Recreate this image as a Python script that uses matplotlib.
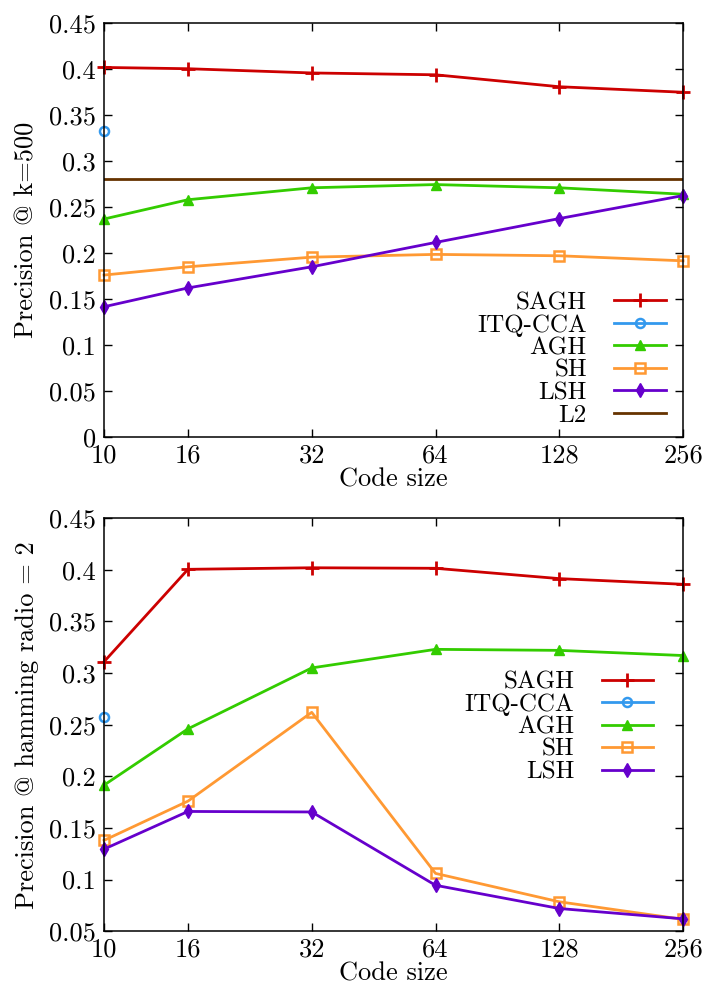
import numpy as np
import matplotlib
matplotlib.use('Agg')
import matplotlib.pyplot as plt

plt.rcParams['font.family'] = ['cmr10', 'DejaVu Serif']
plt.rcParams['mathtext.fontset'] = 'cm'
plt.rcParams['axes.formatter.use_mathtext'] = True

# 数据
code_size = [10, 16, 32, 64, 128, 256]
code_ticks = ['10', '16', '32', '64', '128', '256']

# 上图: precision @ k=500
sagh_k = [0.402, 0.4006, 0.396, 0.394, 0.381, 0.375]
itq_k = [0.333]
agh_k = [0.237, 0.258, 0.271, 0.2745, 0.271, 0.264]
sh_k = [0.176, 0.185, 0.1955, 0.1985, 0.197, 0.1915]
lsh_k = [0.1415, 0.162, 0.185, 0.2115, 0.2375, 0.2625]
l2_k = [0.2805, 0.2805]

# 下图: precision @ hamming radius 2
sagh_h = [0.311, 0.4005, 0.402, 0.4015, 0.3915, 0.386]
itq_h = [0.2575]
agh_h = [0.1915, 0.246, 0.305, 0.323, 0.322, 0.317]
sh_h = [0.138, 0.176, 0.262, 0.106, 0.0785, 0.0615]
lsh_h = [0.1295, 0.166, 0.1655, 0.0945, 0.072, 0.062]

c_sagh = '#cc0000'
c_itq = '#3399ee'
c_agh = '#33cc00'
c_sh = '#ff9933'
c_lsh = '#6600cc'
c_l2 = '#663300'

fs = 19
lfs = 18
lw = 2.0

fig = plt.figure(figsize=(7.03, 9.85), dpi=100)
ax1 = fig.add_axes([0.148, 0.5566, 0.8236, 0.4197])
ax2 = fig.add_axes([0.148, 0.0546, 0.8236, 0.4193])


def style_axis(ax, ymin, ymax, ylabel):
    ax.set_xscale('log', base=2)
    ax.set_xlim(10, 256)
    ax.set_ylim(ymin, ymax)
    ax.set_xticks(code_size)
    ax.set_xticklabels(code_ticks)
    ax.minorticks_off()
    yt = np.arange(ymin, ymax + 0.001, 0.05)
    ax.set_yticks(yt)
    ax.set_yticklabels(['%g' % round(v, 2) for v in yt])
    ax.tick_params(direction='in', length=6, width=1, top=True, right=True,
                   labelsize=fs, pad=6)
    ax.tick_params(axis='x', pad=5)
    ax.set_xlabel('Code size', fontsize=fs, labelpad=0)
    ax.set_ylabel(ylabel, fontsize=fs, labelpad=7)
    for s in ax.spines.values():
        s.set_linewidth(1.1)


def draw(ax, sagh, itq, agh, sh, lsh, l2=None):
    ax.plot(code_size, sagh, color=c_sagh, lw=lw, marker='+', ms=10, mew=2, label='SAGH', clip_on=False)
    ax.plot(code_size[:1], itq, color=c_itq, lw=lw, marker='o', ms=6.5, mfc='none', mew=1.8,
            label='ITQ-CCA', clip_on=False)
    ax.plot(code_size, agh, color=c_agh, lw=lw, marker='^', ms=7, label='AGH', clip_on=False)
    ax.plot(code_size, sh, color=c_sh, lw=lw, marker='s', ms=7, mfc='none', mew=1.8, label='SH',
            clip_on=False)
    ax.plot(code_size, lsh, color=c_lsh, lw=lw, marker='d', ms=7, label='LSH', clip_on=False)
    if l2 is not None:
        ax.plot([code_size[0], code_size[-1]], l2, color=c_l2, lw=lw, label='L2')


draw(ax1, sagh_k, itq_k, agh_k, sh_k, lsh_k, l2_k)
style_axis(ax1, 0, 0.45, 'Precision @ k=500')
ax1.legend(loc='lower right', bbox_to_anchor=(0.987, 0.0), frameon=False, markerfirst=False,
           fontsize=lfs, handlelength=2.05, labelspacing=0.0, handletextpad=1.1,
           borderaxespad=0.0)

draw(ax2, sagh_h, itq_h, agh_h, sh_h, lsh_h)
style_axis(ax2, 0.05, 0.45, 'Precision @ hamming radio = 2')
ax2.legend(loc='upper right', bbox_to_anchor=(0.987, 0.685), frameon=False, markerfirst=False,
           fontsize=lfs, handlelength=2.05, labelspacing=0.0, handletextpad=1.1)

plt.savefig('out.png', dpi=100)
